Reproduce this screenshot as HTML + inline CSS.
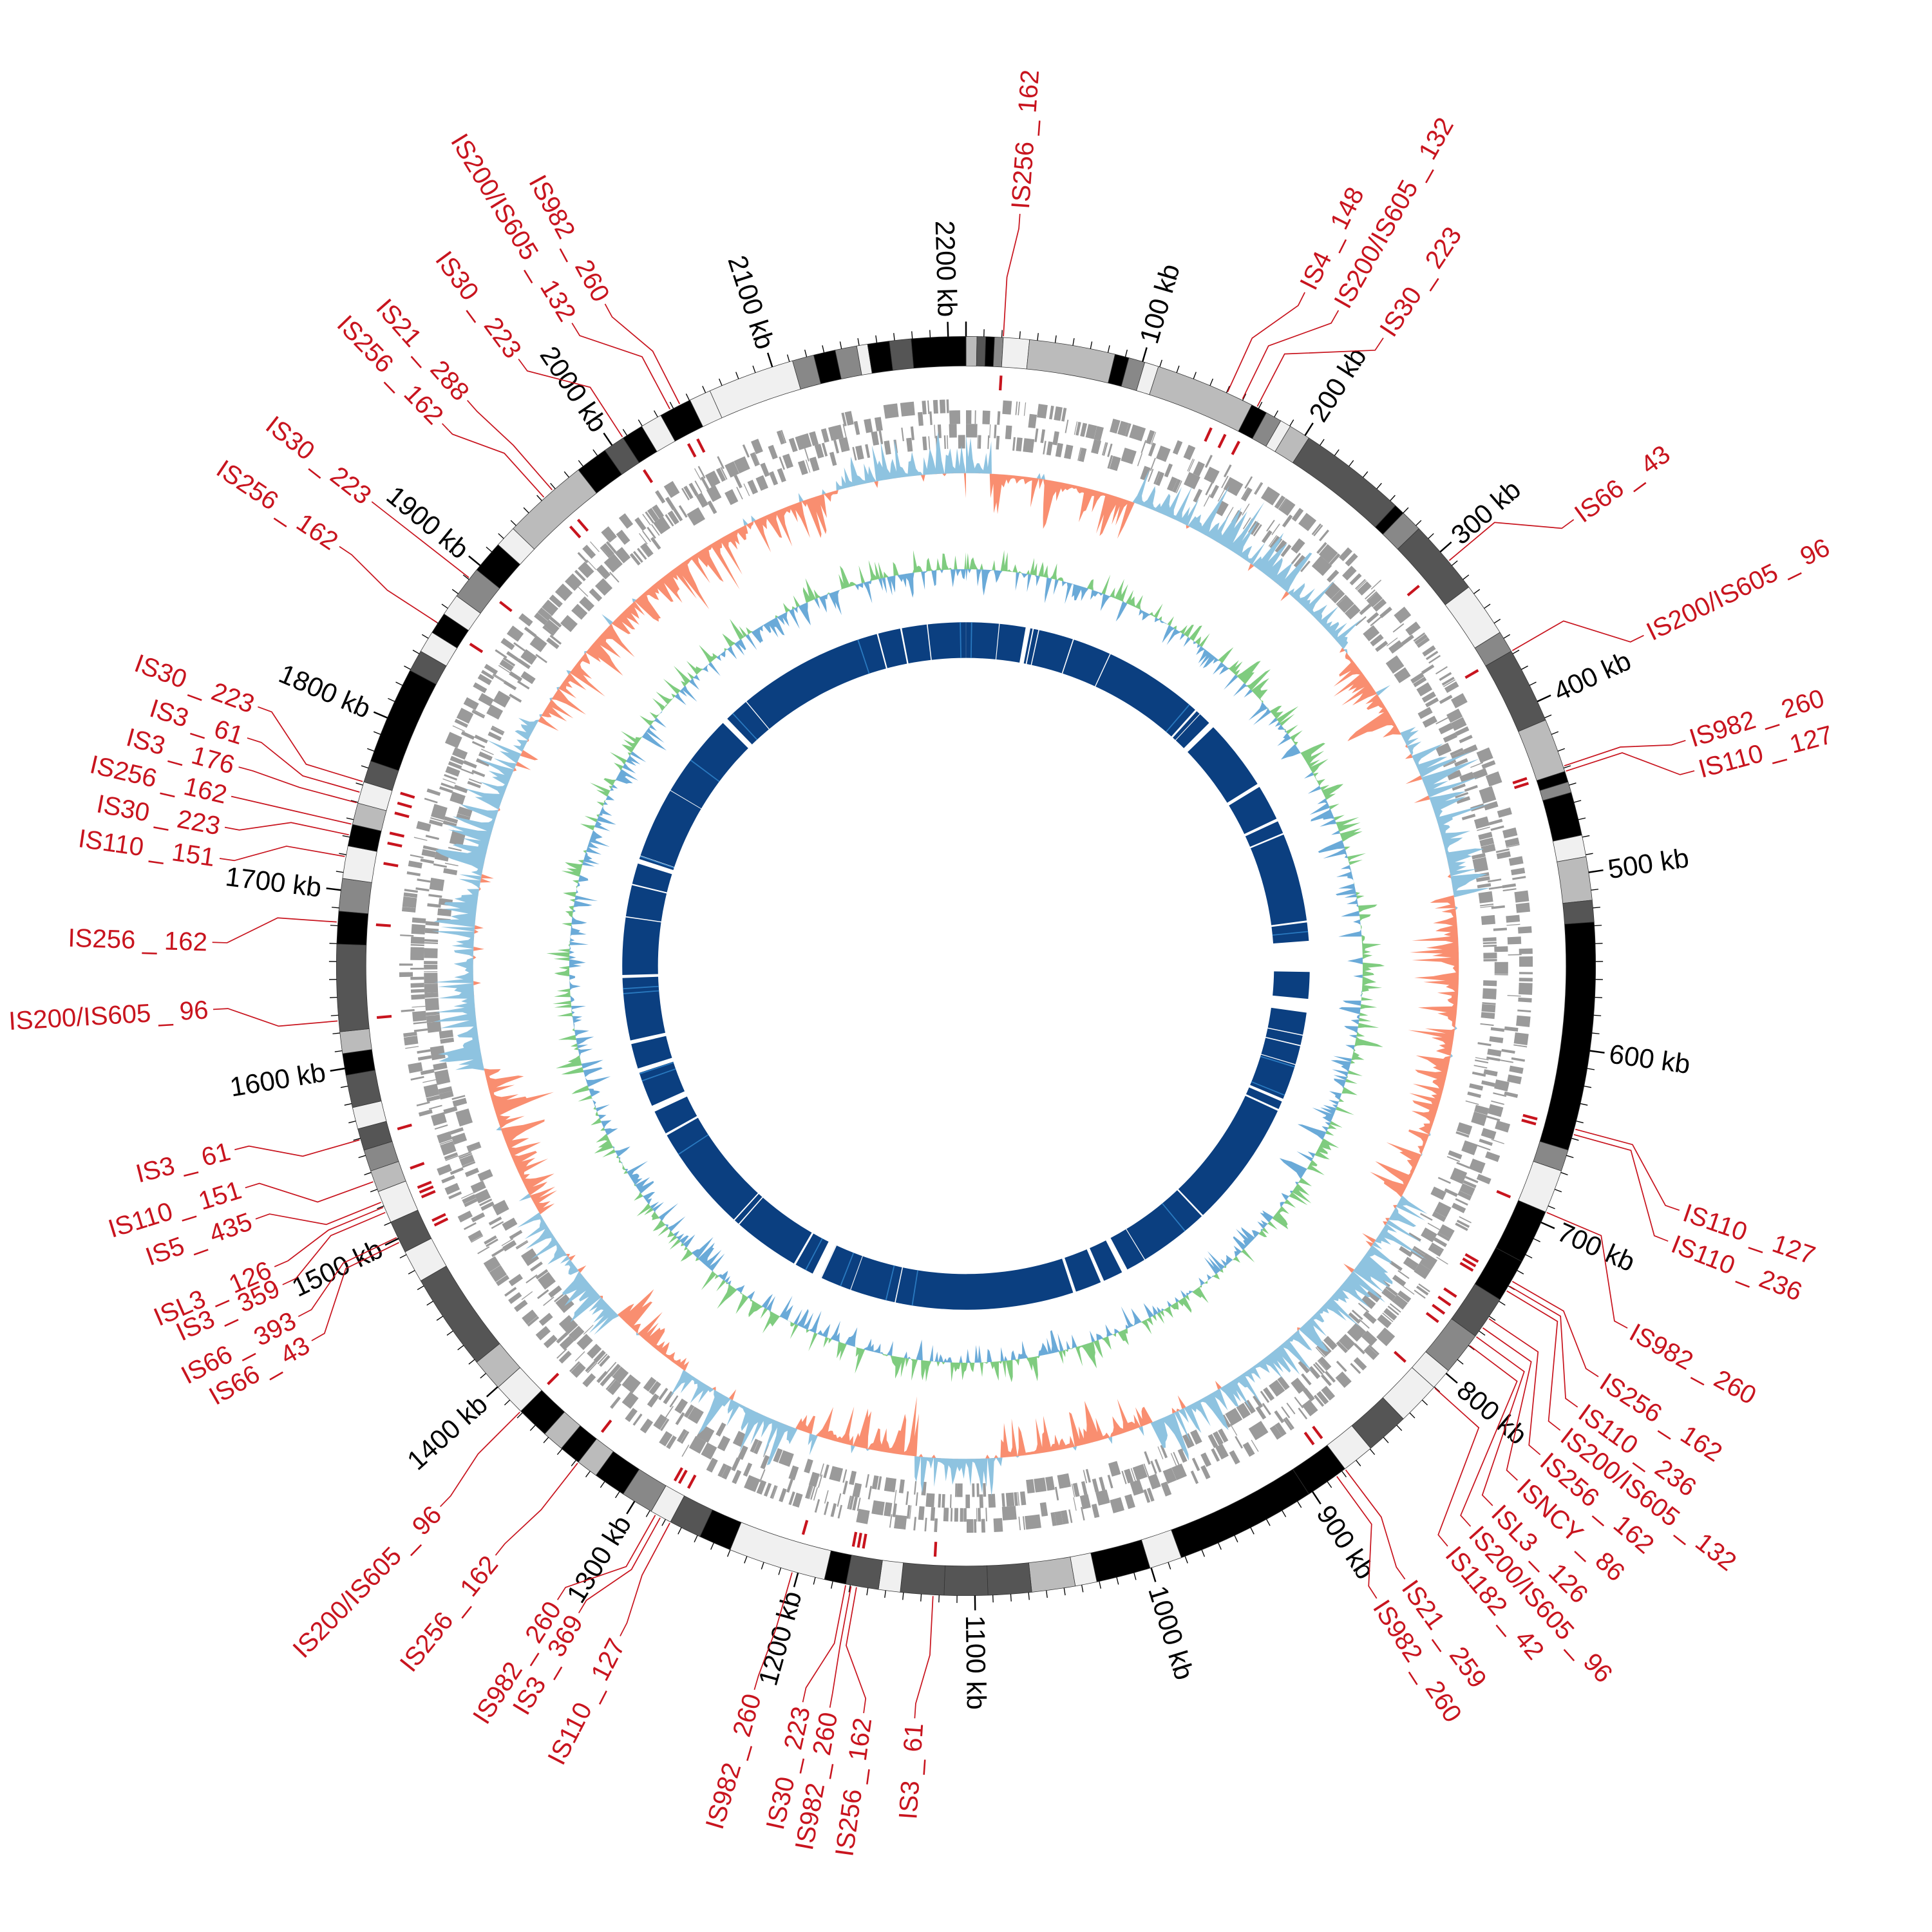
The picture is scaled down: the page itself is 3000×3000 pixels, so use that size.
<!DOCTYPE html>
<html><head><meta charset="utf-8">
<style>html,body{margin:0;padding:0;background:#fff;}svg{display:block}</style>
</head><body>
<svg id="s" xmlns="http://www.w3.org/2000/svg" width="3000" height="3000" viewBox="0 0 1568 1568"></svg>
<script>
const svg=document.getElementById('s');const NS='http://www.w3.org/2000/svg';
const cx=784,cy=784,S=2210;
function P(r,a){const t=a*Math.PI/180;return [cx+r*Math.sin(t),cy-r*Math.cos(t)];}
function el(tag,attrs,parent){const e=document.createElementNS(NS,tag);for(const k in attrs)e.setAttribute(k,attrs[k]);(parent||svg).appendChild(e);return e;}
function arc(r1,r2,a1,a2){const l=(a2-a1)>180?1:0;const p1=P(r2,a1),p2=P(r2,a2),p3=P(r1,a2),p4=P(r1,a1);
return `M${p1[0]},${p1[1]}A${r2},${r2} 0 ${l} 1 ${p2[0]},${p2[1]}L${p3[0]},${p3[1]}A${r1},${r1} 0 ${l} 0 ${p4[0]},${p4[1]}Z`;}
let seed=12345;function rnd(){seed|=0;seed=seed+0x6D2B79F5|0;let t=Math.imul(seed^seed>>>15,1|seed);t=t+Math.imul(t^t>>>7,61|t)^t;return((t^t>>>14)>>>0)/4294967296;}
const K='#000',D='#555',M='#888',L='#bbb',W='#f0f0f0';
const ide=[[0,1,L],[1,1.8,D],[1.8,2.6,K],[2.6,3.4,M],[3.4,5.8,W],[5.8,13.7,L],[13.7,15,K],[15,16.5,M],[16.5,17.8,W],[17.8,27,L],[27,28.5,K],[28.5,30,M],[30,31,W],[31,33,L],[33,43,D],[43,44,K],[44,46,M],[46,53,D],[53,58,W],[58,60,M],[60,67,D],[67,72,L],[72,73,K],[73,74,M],[74,78,K],[78,80,W],[80,84,L],[84,86,D],[86,107,K],[107,109,M],[109,113,W],[113,118,K],[118,122,K],[122,126,D],[126,130,M],[130,132,W],[132,136,W],[136,140,D],[140,143,W],[143,147,K],[147,160,K],[160,163,W],[163,168,K],[168,170,W],[170,174,L],[174,178,D],[178,182,D],[182,186,D],[186,188,W],[188,191,D],[191,193,K],[193,202,W],[202,205,K],[205,208,D],[208,210,W],[210,213,M],[213,216,K],[216,218,L],[218,220,K],[220,222,L],[222,225,K],[225,228,W],[228,231,L],[231,240,D],[240,243,W],[243,246,D],[246,249,W],[249,251,L],[251,253,M],[253,255,D],[255,257,W],[257,260,D],[260,262,K],[262,264,L],[264,272,D],[272,275,K],[275,278,M],[278,281,W],[281,283,K],[283,285,L],[285,287,W],[287,289,D],[289,298,K],[298,300,D],[300,302,W],[302,304,K],[304,306,W],[306,309,M],[309,312,K],[312,314,W],[314,322,L],[322,325,K],[325,327,D],[327,329,K],[329,331,W],[331,334,K],[334,336,W],[336,344,W],[344,346,M],[346,348,K],[348,350,M],[350,351,W],[351,353,K],[353,355,D],[355,360,K]];
for(const [a,b,c] of ide)el('path',{d:arc(487,511,a,b),fill:c,stroke:'#333','stroke-width':0.4});
for(let k=0;k<=S;k+=10){const a=k/S*360;const big=k%100==0;const p1=P(511,a),p2=P(big?523:517,a);el('line',{x1:p1[0],y1:p1[1],x2:p2[0],y2:p2[1],stroke:'#000','stroke-width':big?1.3:0.7});}
function label(text,a,r,color,size,g){const p=P(r,a);let rot,anc;if(a<180){rot=a-90;anc='start';}else{rot=a+90;anc='end';}
const t=el('text',{x:p[0],y:p[1],transform:`rotate(${rot} ${p[0]} ${p[1]})`,'text-anchor':anc,'dominant-baseline':'central',fill:color,'font-size':size,'font-family':'"Liberation Sans Narrow","Liberation Sans",sans-serif'},g);t.textContent=text;}
for(let k=100;k<=2200;k+=100)label(k+' kb',k/S*360,527,'#000',22);
// gene track
const rows=[[449,460],[440,451],[429,440],[420,431]];
for(let s=0;s<2;s++){let a=0;while(a<359.5){const w=0.08+rnd()*rnd()*1.6;const gap=rnd()*rnd()*0.9;const rr=rows[s*2+(rnd()<0.5?0:1)];
el('path',{d:arc(rr[0],rr[1],a,Math.min(a+w,359.9)),fill:'#9a9a9a'});a+=w+gap;}}
// skew track
const blue=[[345,360],[0,3],[20,50],[62,82],[118,158],[176,186],[200,215],[225,240],[258,300]];
function isBlue(a){return blue.some(([x,y])=>a>=x&&a<y);}
let ptsB=[],ptsO=[];let sm=0;
for(let a=0;a<=360;a+=0.25){let m=rnd();m=2+40*m*m*m+(rnd()<0.06?15:0);sm=0.2*sm+0.8*m;let v=isBlue(a)?sm:-sm;if(rnd()<0.06)v=-v*0.4;
ptsB.push(P(400+Math.max(v,0),a));ptsO.push(P(400+Math.min(v,0),a));}
function fill2(pts,base,col){let d='M'+pts.map(p=>p[0].toFixed(1)+','+p[1].toFixed(1)).join('L')+'Z';const b1=P(base,0);d+=`M${b1[0]},${b1[1]}A${base},${base} 0 1 1 ${cx},${cy+base}A${base},${base} 0 1 1 ${b1[0]},${b1[1]}Z`;el('path',{d:d,fill:col,'fill-rule':'evenodd'});}
fill2(ptsB,400,'#8ec3e0');fill2(ptsO,400,'#f98e70');
// GC track
let g1=[],g2=[];sm=0;
for(let a=0;a<=360;a+=0.25){let v=(rnd()-0.5)*2;v=v*Math.abs(v)*26;sm=0.3*sm+0.7*v;g1.push(P(322+Math.max(sm,0),a));g2.push(P(322+Math.min(sm,0),a));}
fill2(g1,322,'#7fcc7f');fill2(g2,322,'#6aaad8');
// inner blocks
const gaps=[];
for(let i=0;i<40;i++){const a=rnd()*360;gaps.push([a,a+0.1+rnd()*rnd()*0.8]);}
gaps.push([205,206.5],[152,153],[245,246],[268,268.5],[10,10.8],[45,46],[58,58.6],[315,316]);
el('path',{d:arc(250,279,0.01,85.8),fill:'#0b3f80'});el('path',{d:arc(250,279,91,95.5),fill:'#0b3f80'});el('path',{d:arc(250,279,97.8,359.99),fill:'#0b3f80'});
for(const [a,b] of gaps)if(!(a>85&&a<98))el('path',{d:arc(249,280,a,b),fill:'#fff'});
for(let i=0;i<20;i++){const a=rnd()*360;if(a>85&&a<98)continue;el('path',{d:arc(250,279,a,a+0.2),fill:'#2a7ac0'});}
const IS=[[4.1,3.4,'IS256 _ 162'],[26.7,24.5,'IS4 _ 148'],[29.6,26,'IS200/IS605 _ 132'],[33.6,27.5,'IS30 _ 223'],[53.7,50,'IS66 _ 43'],[64,60,'IS200/IS605 _ 96'],[72.6,71.5,'IS982 _ 260'],[75,72,'IS110 _ 127'],[108.9,105,'IS110 _ 127'],[111.4,105.5,'IS110 _ 236'],[118.7,113,'IS982 _ 260'],[123,120,'IS256 _ 162'],[125.8,120.5,'IS110 _ 236'],[128,121,'IS200/IS605 _ 132'],[130.4,124,'IS256 _ 162'],[133,125,'ISNCY _ 86'],[135.7,126,'ISL3 _ 126'],[138,127,'IS200/IS605 _ 96'],[140.3,132,'IS1182 _ 42'],[144.4,143,'IS21 _ 259'],[147,144,'IS982 _ 260'],[183.9,183,'IS3 _ 61'],[187.8,190,'IS256 _ 162'],[190.4,190.5,'IS982 _ 260'],[192.5,191,'IS30 _ 223'],[196.3,196,'IS982 _ 260'],[207.3,208,'IS110 _ 127'],[210.9,209,'IS3 _ 369'],[212.8,209.5,'IS982 _ 260'],[218.6,218,'IS256 _ 162'],[224.2,225,'IS200/IS605 _ 96'],[240.2,244,'IS66 _ 43'],[242.3,244.5,'IS66 _ 393'],[245,247,'IS3 _ 359'],[246.5,247.5,'ISL3 _ 126'],[250.4,248,'IS5 _ 435'],[252.9,250,'IS110 _ 151'],[255.9,254,'IS3 _ 61'],[266.7,265,'IS200/IS605 _ 96'],[271.8,274,'IS256 _ 162'],[278.2,280,'IS110 _ 151'],[280.6,282,'IS30 _ 223'],[283,283,'IS256 _ 162'],[285.3,285,'IS3 _ 176'],[287.6,286,'IS3 _ 61'],[290.1,287,'IS30 _ 223'],[303.8,303,'IS256 _ 162'],[308,308,'IS30 _ 223'],[316,318,'IS256 _ 162'],[318.6,319,'IS21 _ 288'],[323.6,327,'IS30 _ 223'],[328.5,332,'IS200/IS605 _ 132'],[331.4,333,'IS982 _ 260']];
const red='#c8141e';
for(const [al,am,t] of IS){const m1=P(468,am),m2=P(480,am);el('line',{x1:m1[0],y1:m1[1],x2:m2[0],y2:m2[1],stroke:red,'stroke-width':2.2});
const pts=[P(512,am),P(560,am),P(600,al),P(612,al)];el('polyline',{points:pts.map(p=>p.join(',')).join(' '),fill:'none',stroke:red,'stroke-width':0.9});
label(t,al,616,red,21);}
</script>
</body></html>
